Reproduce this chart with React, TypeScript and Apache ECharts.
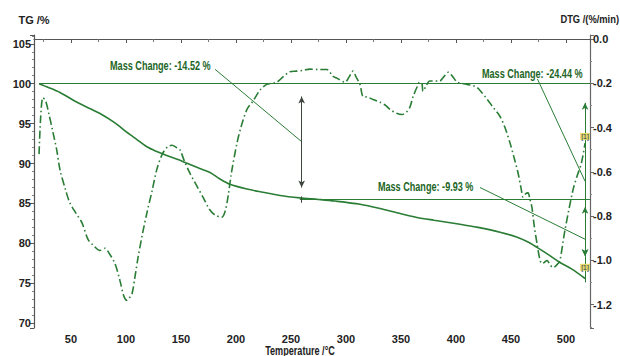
import React, { useEffect, useRef } from 'react';
import * as echarts from 'echarts';

// TG curve (temperature °C, mass %)
const tgTemperature = [21, 30, 40, 46.4, 55, 67, 76, 90, 101, 110, 119, 128, 137, 151, 165, 176, 185, 194.5, 210, 224.5, 240, 258, 275, 290, 312.7, 330, 350, 364.5, 380, 403.6, 420, 440, 455, 465, 473.6, 485, 494.5, 505, 517.3];
const tgPercent = [100, 99.5, 98.9, 98.4, 97.7, 96.9, 96.3, 95.1, 93.9, 93.0, 92.1, 91.5, 91.0, 90.3, 89.5, 88.9, 88.1, 87.4, 86.8, 86.4, 86.0, 85.7, 85.5, 85.3, 84.9, 84.4, 83.7, 83.25, 82.9, 82.4, 82.0, 81.4, 80.8, 80.2, 79.5, 78.5, 77.6, 76.8, 75.6];

// DTG curve (temperature °C, %/min)
const dtgTemperature = [21, 22.5, 24.5, 27, 30, 33.6, 37, 40, 45, 49, 55, 60, 65.5, 70, 76.4, 81, 85, 90, 94.5, 98, 101, 103, 105.5, 108, 111, 115, 119, 124, 128, 133, 138, 141.8, 146, 149, 153, 158, 164, 170, 176, 181, 187, 190, 192.7, 196, 201, 205, 210, 215.5, 222, 228, 237, 243, 249, 255, 261, 267, 276, 282.7, 288, 292, 299, 303, 306.4, 309, 312.7, 315.5, 319, 324.5, 331, 336, 340, 346, 351, 355, 358, 361, 364.5, 367, 369, 370, 373, 376, 380, 385, 389, 393, 397, 401, 405, 410, 415, 419, 424, 428, 434, 440, 444.5, 449, 453, 456.4, 459, 461, 463, 465.5, 467, 469, 471, 473.6, 476, 478, 480, 482.7, 485, 488, 490, 492.7, 494.5, 499, 506.4, 510, 514, 517.3];
const dtgRate = [-0.52, -0.35, -0.265, -0.28, -0.34, -0.42, -0.5, -0.59, -0.68, -0.74, -0.79, -0.83, -0.905, -0.93, -0.955, -0.945, -0.97, -1.014, -1.09, -1.16, -1.18, -1.17, -1.15, -1.08, -0.986, -0.88, -0.786, -0.68, -0.59, -0.52, -0.486, -0.48, -0.49, -0.5, -0.55, -0.605, -0.66, -0.714, -0.77, -0.795, -0.805, -0.78, -0.714, -0.6, -0.468, -0.39, -0.318, -0.28, -0.23, -0.205, -0.195, -0.17, -0.148, -0.145, -0.142, -0.136, -0.138, -0.138, -0.168, -0.178, -0.195, -0.17, -0.145, -0.17, -0.205, -0.26, -0.262, -0.273, -0.286, -0.3, -0.318, -0.335, -0.341, -0.33, -0.309, -0.26, -0.218, -0.195, -0.2, -0.236, -0.21, -0.19, -0.19, -0.19, -0.17, -0.15, -0.17, -0.195, -0.2, -0.205, -0.21, -0.218, -0.245, -0.27, -0.31, -0.35, -0.4, -0.468, -0.54, -0.605, -0.67, -0.714, -0.7, -0.695, -0.72, -0.76, -0.84, -0.923, -0.99, -1.014, -1.01, -1.0, -1.015, -1.032, -1.028, -1.014, -1.0, -0.864, -0.68, -0.62, -0.56, -0.47];

// Step analysis
const massLevels = [100, 85.48, 75.56];
const levelStartTemperatures = [21, 258];
const stepTemperatures = [259.7, 517.3];
const annotationTexts = ['Mass Change: -14.52 %', 'Mass Change: -24.44 %', 'Mass Change: -9.93 %'];
const annotationAnchors = [[85.5, 102.3], [423.6, 101.25], [329, 87.1]];
const leaderStarts = [[181, 101.8], [474, 100.6], [421.8, 87.0]];
const leaderEnds = [[259.7, 92.74], [517.3, 87.78], [517.3, 80.52]];
const arrowSpans = [[259.7, 98.4, 87.0], [517.3, 97.6, 78.4], [517.3, 84.6, 78.4]];
const stepMarkers = [[517.3, 93.4], [517.3, 77.0]];

const xRange = [16.4, 521.8];
const tgRange = [69.4, 106.1];
const dtgRange = [-1.305, 0.018];

const FONT = '"Liberation Sans", Arial, sans-serif';
const GREEN = '#2a7d35';
const TEXT_GREEN = '#1d6526';

export default function App() {
  const ref = useRef<HTMLDivElement>(null);
  useEffect(() => {
    if (!ref.current) return;
    const chart = echarts.init(ref.current, null, { renderer: 'svg' });
    const tgData = tgTemperature.map((t, i) => [t, tgPercent[i]]);
    const dtgData = dtgTemperature.map((t, i) => [t, dtgRate[i]]);

    const lineItems: any[] = [];
    lineItems.push([{ coord: [levelStartTemperatures[0], massLevels[0]] }, { coord: [xRange[1], massLevels[0]] }]);
    lineItems.push([{ coord: [levelStartTemperatures[1], massLevels[1]] }, { coord: [xRange[1], massLevels[1]] }]);
    leaderStarts.forEach((s, i) => {
      lineItems.push([{ coord: s }, { coord: leaderEnds[i] }]);
    });
    arrowSpans.forEach((a, i) => {
      const col = i === 0 ? '#3d463d' : GREEN;
      lineItems.push([
        { coord: [a[0], a[1]], symbol: 'arrow', symbolSize: [5, 7], lineStyle: { color: col }, itemStyle: { color: col } },
        { coord: [a[0], a[2]], symbol: 'arrow', symbolSize: [5, 7] },
      ]);
    });
    lineItems.push([{ coord: [stepTemperatures[1], 78.4] }, { coord: [stepTemperatures[1], massLevels[2] - 0.45] }]);
    lineItems.push([{ coord: [stepTemperatures[0], massLevels[1] + 0.4], lineStyle: { color: '#3d463d' } }, { coord: [stepTemperatures[0], massLevels[1] - 0.4] }]);

    const pointItems: any[] = stepMarkers.map((m) => ({
      coord: m,
      value: '[1]',
      symbol: 'circle',
      symbolSize: 0,
      label: {
        show: true,
        position: 'inside',
        formatter: '[1]',
        color: '#2b3a55',
        fontFamily: FONT,
        fontSize: 7,
        backgroundColor: '#e6d76a',
        padding: [0, 1],
      },
    }));

    const axisLabel = { fontFamily: FONT, fontSize: 11, fontWeight: 'bold', color: '#222' };
    chart.setOption({
      animation: false,
      backgroundColor: '#ffffff',
      grid: { left: 34, right: 30, top: 35, bottom: 28, containLabel: false, outerBoundsMode: 'none' },
      xAxis: {
        type: 'value',
        min: xRange[0],
        max: xRange[1],
        splitNumber: 10,
        axisLine: { lineStyle: { color: '#555', width: 1.2 } },
        axisTick: { length: 4, lineStyle: { color: '#555' } },
        minorTick: { show: true, splitNumber: 2, length: 3, lineStyle: { color: '#777' } },
        splitLine: { show: false },
        axisLabel: { ...axisLabel, margin: 5, showMinLabel: false, showMaxLabel: false },
      },
      yAxis: [
        {
          type: 'value',
          min: tgRange[0],
          max: tgRange[1],
          splitNumber: 7,
          name: 'TG /%',
          nameLocation: 'end',
          nameGap: 10,
          nameTextStyle: { fontFamily: FONT, fontSize: 11, fontWeight: 'bold', color: '#222' },
          axisLine: { show: true, lineStyle: { color: '#555', width: 1.2 } },
          axisTick: { show: true, length: 4, lineStyle: { color: '#555' } },
          minorTick: { show: true, splitNumber: 5, length: 2, lineStyle: { color: '#888' } },
          splitLine: { show: false },
          axisLabel: { ...axisLabel, margin: 3, showMinLabel: false, showMaxLabel: false },
        },
        {
          type: 'value',
          position: 'right',
          min: dtgRange[0],
          max: dtgRange[1],
          splitNumber: 7,
          axisLine: { show: true, lineStyle: { color: '#666', width: 1.2 } },
          axisTick: { show: true, length: 4, lineStyle: { color: '#666' } },
          minorTick: { show: true, splitNumber: 2, length: 2, lineStyle: { color: '#888' } },
          splitLine: { show: false },
          axisLabel: {
            ...axisLabel,
            margin: 3,
            showMinLabel: false,
            showMaxLabel: false,
            formatter: (v: number) => (Math.abs(v) < 1e-9 ? '0.0' : v.toFixed(1)),
          },
        },
      ],
      series: [
        {
          name: 'TG',
          type: 'line',
          yAxisIndex: 0,
          data: tgData,
          showSymbol: false,
          smooth: 0.3,
          lineStyle: { color: GREEN, width: 1.6 },
          itemStyle: { color: GREEN },
          silent: true,
          z: 3,
          markLine: {
            silent: true,
            symbol: ['none', 'none'],
            label: { show: false },
            lineStyle: { color: GREEN, width: 1, type: 'solid' },
            data: lineItems,
          },
          markPoint: {
            silent: true,
            data: pointItems,
          },
        },
        {
          name: 'DTG',
          type: 'line',
          yAxisIndex: 1,
          data: dtgData,
          showSymbol: false,
          smooth: 0.3,
          lineStyle: { color: GREEN, width: 1.6, type: [8, 3, 1.5, 3] },
          itemStyle: { color: GREEN },
          silent: true,
          z: 2,
        },
      ],
    });

    const graphics: any[] = annotationTexts.map((txt, i) => {
      const p = chart.convertToPixel({ xAxisIndex: 0, yAxisIndex: 0 }, annotationAnchors[i]) as number[];
      return {
        type: 'text',
        x: p[0],
        y: p[1],
        scaleX: 0.7,
        z: 10,
        style: {
          text: txt,
          font: `bold 13px ${FONT}`,
          fill: TEXT_GREEN,
          align: 'left',
          verticalAlign: 'middle',
        },
      };
    });
    graphics.push({
      type: 'text',
      x: 300,
      y: 350,
      scaleX: 0.7,
      style: {
        text: 'Temperature /°C',
        font: `bold 13px ${FONT}`,
        fill: '#222',
        align: 'center',
        verticalAlign: 'middle',
      },
    });
    graphics.push({
      type: 'text',
      x: 619,
      y: 19,
      scaleX: 0.85,
      style: {
        text: 'DTG /(%/min)',
        font: `bold 11px ${FONT}`,
        fill: '#222',
        align: 'right',
        verticalAlign: 'middle',
      },
    });
    chart.setOption({ graphic: graphics });

    return () => chart.dispose();
  }, []);
  return <div ref={ref} style={{ width: 620, height: 356, position: 'absolute', left: 0, top: 0 }} />;
}
